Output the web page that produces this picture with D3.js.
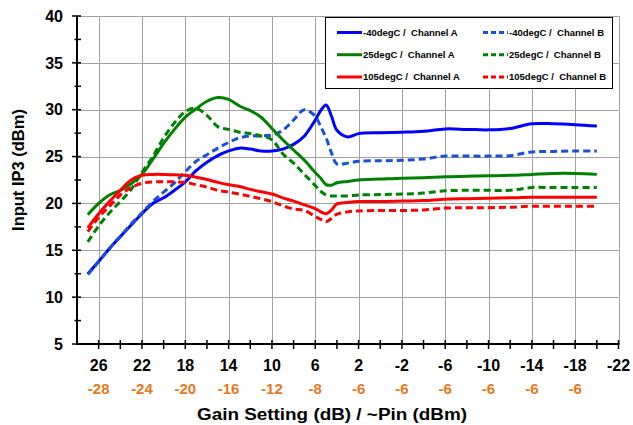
<!DOCTYPE html>
<html><head><meta charset="utf-8">
<script src="https://cdn.jsdelivr.net/npm/d3@7"></script>
<style>
html,body{margin:0;padding:0;background:#fff;}
text{font-family:"Liberation Sans",Arial,sans-serif;font-weight:bold;}
</style></head><body>
<svg id="chart" width="633" height="425"></svg>
<script>
// ---- data ----
const gain = [27,26,25,24,23,22,21,20,19,18,17,16,15,14,13,12,11,10,9,8,7,6,5.5,5,4.5,4,3,2,0,-2,-4,-6,-8,-10,-12,-14,-16,-18,-20];
const m40A  = [12.5,13.8,15.2,16.45,17.7,18.9,20.0,20.6,21.4,22.3,23.5,24.4,25.1,25.6,25.9,25.8,25.6,25.6,25.8,26.3,27.2,28.9,29.9,30.5,29.3,27.8,27.1,27.45,27.55,27.6,27.7,27.95,27.9,27.85,28.0,28.5,28.5,28.4,28.25];
const m40B  = [12.4,13.8,15.2,16.5,17.8,19.0,20.2,21.2,22.2,23.4,24.5,25.2,25.9,26.5,27.0,27.2,27.2,27.3,27.8,28.9,30.0,29.3,28.2,27.0,25.4,24.2,24.3,24.5,24.55,24.6,24.75,25.05,25.05,25.05,25.1,25.5,25.55,25.6,25.6];
const t25A  = [18.8,20.0,20.9,21.4,22.1,23.1,24.7,26.4,27.9,29.2,30.1,30.9,31.3,31.1,30.4,29.9,29.2,28.0,26.8,25.7,24.6,23.3,22.7,22.0,21.95,22.2,22.35,22.5,22.6,22.7,22.75,22.85,22.9,22.95,23.0,23.1,23.2,23.2,23.1];
const t25B  = [15.9,17.6,19.0,20.2,21.5,23.3,25.0,27.0,28.6,29.8,30.15,29.4,28.2,27.9,27.6,27.45,27.2,26.8,25.3,24.3,23.1,21.9,21.3,20.9,20.8,20.8,20.8,20.9,20.95,21.0,21.1,21.35,21.4,21.4,21.4,21.7,21.7,21.7,21.7];
const t105A = [17.4,18.9,20.2,21.4,22.5,23.0,23.1,23.1,23.05,23.0,22.8,22.55,22.25,22.0,21.8,21.5,21.25,21.0,20.6,20.25,19.85,19.45,19.1,18.9,19.3,19.95,20.1,20.2,20.2,20.25,20.3,20.45,20.5,20.55,20.6,20.65,20.65,20.65,20.65];
const t105B = [17.0,18.5,19.7,20.9,21.7,22.15,22.3,22.3,22.3,22.25,22.0,21.75,21.4,21.2,21.0,20.75,20.5,20.2,19.75,19.4,19.25,18.6,18.3,18.05,18.4,18.85,19.1,19.2,19.25,19.25,19.3,19.5,19.55,19.55,19.6,19.7,19.7,19.7,19.7];

const seriesNames = ["-40degC /  Channel A","-40degC /  Channel B","25degC /  Channel A","25degC /  Channel B","105degC /  Channel A","105degC /  Channel B"];
const seriesValues = [m40A, m40B, t25A, t25B, t105A, t105B];
const seriesColors = ["#0000ff","#1a4fd8","#008000","#008000","#ff0000","#ff0000"];
const seriesDashed = [false,true,false,true,false,true];

const gainTicks = [26,22,18,14,10,6,2,-2,-6,-10,-14,-18,-22];
const pinLabels = ["-28","-24","-20","-16","-12","-8","-6","-6","-6","-6","-6","-6",""];
const yTicks = [5,10,15,20,25,30,35,40];

// ---- layout ----
const svg = d3.select("#chart");
const L = 77, R = 618.5, T = 16, B = 344;
const x = d3.scaleLinear().domain([28,-22]).range([L,R]);
const y = d3.scaleLinear().domain([5,40]).range([B,T]);

// gridlines
const grid = svg.append("g").attr("stroke","#a0a0a0").attr("stroke-width",1);
grid.selectAll("line.h").data(yTicks.filter(d=>d>5)).join("line")
  .attr("x1",L).attr("x2",R).attr("y1",d=>Math.round(y(d))+0.5).attr("y2",d=>Math.round(y(d))+0.5);
grid.selectAll("line.v").data(gainTicks).join("line")
  .attr("y1",T).attr("y2",B).attr("x1",d=>Math.round(x(d))+0.5).attr("x2",d=>Math.round(x(d))+0.5);

// series
const line = d3.line().x((d,i)=>x(gain[i])).y(d=>y(d)).curve(d3.curveCatmullRom.alpha(0.5));
svg.append("g").selectAll("path").data(seriesValues).join("path")
  .attr("d",d=>line(d)).attr("fill","none")
  .attr("stroke",(d,i)=>seriesColors[i]).attr("stroke-width",3)
  .attr("stroke-dasharray",(d,i)=>seriesDashed[i]?"7,4":null)
  .attr("stroke-linejoin","round");

// axes
const ax = svg.append("g").attr("stroke","#000");
ax.append("line").attr("x1",L).attr("x2",L).attr("y1",T).attr("y2",B+1).attr("stroke-width",2);
ax.append("line").attr("x1",L-1).attr("x2",R+1).attr("y1",B).attr("y2",B).attr("stroke-width",2);
ax.selectAll("line.ym").data(d3.range(5,40.01,2.5)).join("line")
  .attr("x1",d=>d%5===0?72:74.5).attr("x2",81).attr("y1",d=>y(d)).attr("y2",d=>y(d)).attr("stroke-width",1.5);
ax.selectAll("line.xm").data(d3.range(26,-22.01,-2)).join("line")
  .attr("x1",d=>x(d)).attr("x2",d=>x(d)).attr("y1",340).attr("y2",349).attr("stroke-width",1.5);

// y labels
svg.append("g").selectAll("text").data(yTicks).join("text")
  .attr("x",63).attr("y",d=>y(d)).attr("dy","0.36em").attr("text-anchor","end")
  .attr("font-size",16).attr("fill","#000").text(d=>d);
// x labels
svg.append("g").selectAll("text").data(gainTicks).join("text")
  .attr("x",d=>x(d)).attr("y",371).attr("text-anchor","middle")
  .attr("font-size",16).attr("fill","#000").text(d=>d);
svg.append("g").selectAll("text").data(gainTicks).join("text")
  .attr("x",d=>x(d)).attr("y",394).attr("text-anchor","middle")
  .attr("font-size",15).attr("fill","#e8781e").text((d,i)=>pinLabels[i]);

// titles
svg.append("text").attr("x",332).attr("y",420).attr("text-anchor","middle")
  .attr("font-size",16).attr("textLength",270).attr("lengthAdjust","spacingAndGlyphs")
  .text("Gain Setting (dB) / ~Pin (dBm)");
svg.append("text").attr("transform","translate(24,170) rotate(-90)").attr("text-anchor","middle")
  .attr("font-size",16.5).text("Input IP3 (dBm)");

// legend
const lg = svg.append("g");
lg.append("rect").attr("x",325.5).attr("y",17.5).attr("width",287).attr("height",71)
  .attr("fill","#fff").attr("stroke","#000").attr("stroke-width",1);
const rowsY = [32.5,54.7,77];
const items = lg.selectAll("g.it").data(seriesNames).join("g")
  .attr("transform",(d,i)=>`translate(${i%2===0?337:483},${rowsY[Math.floor(i/2)]})`);
items.append("line").attr("x1",0).attr("x2",25).attr("y1",0).attr("y2",0)
  .attr("stroke",(d,i)=>seriesColors[i]).attr("stroke-width",3)
  .attr("stroke-dasharray",(d,i)=>seriesDashed[i]?"5,3":null);
items.append("text").attr("x",26).attr("y",0).attr("dy","0.35em").attr("font-size",9.5)
  .style("white-space","pre").attr("xml:space","preserve").text(d=>d);
</script>
</body></html>
